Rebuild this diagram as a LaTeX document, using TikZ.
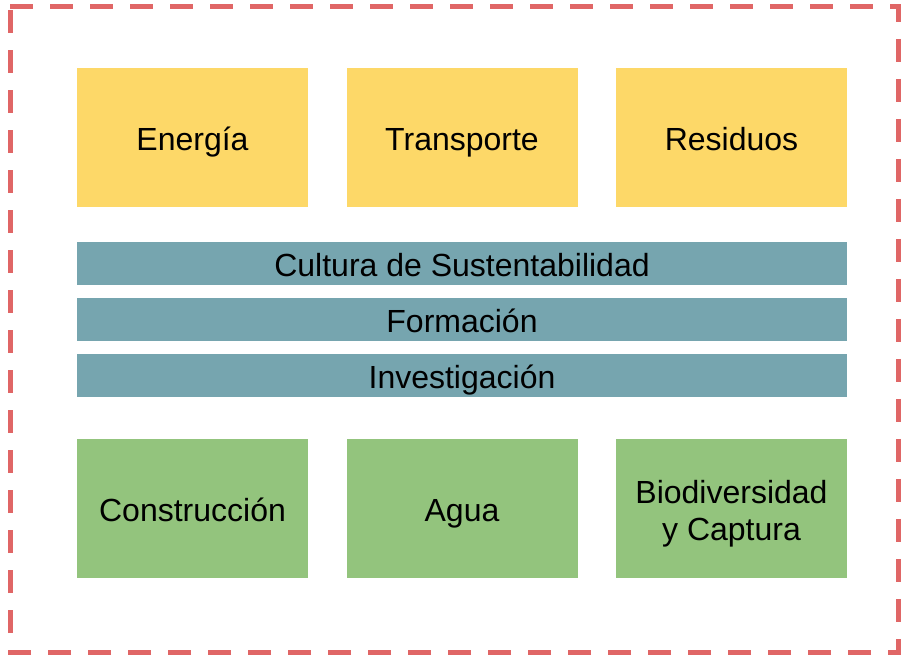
\documentclass[tikz,border=0pt]{standalone}
\usepackage{fontspec}
\setmainfont{Liberation Sans}
\definecolor{yel}{HTML}{FDD868}
\definecolor{teal2}{HTML}{76A5AF}
\definecolor{grn}{HTML}{93C47D}
\definecolor{redd}{HTML}{E06666}
\tikzset{
  px/.style={x=0.75pt,y=-0.75pt},
  base/.style={draw=none,inner sep=0pt,font=\fontsize{24}{27.5}\selectfont},
  txt/.style={base,text height=18.8pt,text depth=0pt},
  topbox/.style={txt,fill=yel,minimum width=173.25pt,minimum height=104.25pt},
  botbox/.style={txt,fill=grn,minimum width=173.25pt,minimum height=104.25pt},
  twoline/.style={base,fill=grn,minimum width=173.25pt,minimum height=104.25pt,align=center},
  barbox/.style={txt,fill=teal2,minimum width=577.5pt,minimum height=32.25pt},
  frame/.style={draw=redd,line width=3.75pt,dash pattern=on 17pt off 13pt}
}
\begin{document}
\begin{tikzpicture}[px]
\useasboundingbox (0,0) rectangle (903,655);
\draw[frame] (10,7) -- (898,7) -- (898,652) -- (10,652) -- cycle;
\node[topbox] (energia) at (192.5,137.5) {Energía};
\node[topbox] (transporte) at (462,137.5) {Transporte};
\node[topbox] (residuos) at (731.5,137.5) {Residuos};
\node[barbox] (cultura) at (462,263.5) {Cultura de Sustentabilidad};
\node[barbox] (formacion) at (462,319.5) {Formación};
\node[barbox] (investigacion) at (462,375.5) {Investigación};
\node[botbox] (construccion) at (192.5,508.5) {Construcción};
\node[botbox] (agua) at (462,508.5) {Agua};
\node[twoline] (biodiv) at (731.5,508.5) {};
\node[base,align=center] (biodivtext) at (731.5,514) {Biodiversidad\\y Captura};
\end{tikzpicture}
\end{document}
